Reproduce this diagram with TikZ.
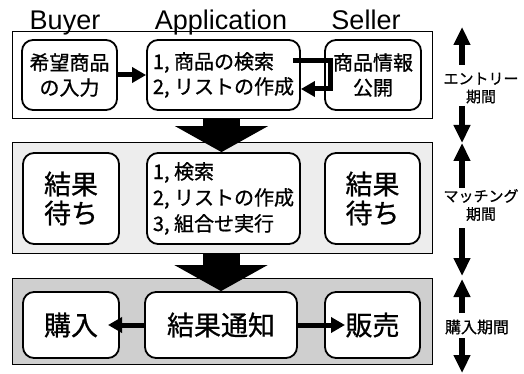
\documentclass[tikz,border=0pt]{standalone}
\usepackage{fontspec}
\setmainfont{Liberation Sans}
\newfontfamily\cjk[FakeBold=0.8]{Noto Sans CJK JP}
\usetikzlibrary{arrows.meta}
\begin{document}
\begin{tikzpicture}[x=1pt,y=-1pt,
  frame/.style={draw, line width=0.9pt, inner sep=0pt},
  box/.style={draw, line width=1.8pt, rounded corners=11pt, fill=white, inner sep=0pt, align=center},
  hdr/.style={anchor=base, inner sep=0pt, font=\fontsize{27}{27}\selectfont},
  small/.style={font=\cjk\fontsize{20}{25}\selectfont},
  big/.style={font=\cjk\fontsize{27}{29}\selectfont},
  side/.style={font=\cjk\fontsize{15}{18}\selectfont, align=center, inner sep=0pt},
  bigarrow/.style={line width=37pt, -{Triangle[width=92pt,length=26pt]}},
  arr/.style={line width=5pt, miter limit=10, -{Triangle[width=15pt,length=14pt]}},
  sarr/.style={line width=6pt, -{Triangle[width=16pt,length=18pt]}},
]
\useasboundingbox (0,0) rectangle (524,374);

% panels
\node[frame, minimum width=420pt, minimum height=87pt] (tf) at (222,74.5) {};
\node[frame, fill=gray!14, minimum width=420pt, minimum height=111pt] (mf) at (222,197.5) {};
\node[frame, fill=gray!38, minimum width=420pt, minimum height=86pt] (bf) at (222,321) {};

% headers
\node[hdr] (hb) at (65,30) {Buyer};
\node[hdr] (ha) at (221,30) {Application};
\node[hdr] (hs) at (366,30) {Seller};

% top row
\node[box, small, minimum width=95pt, minimum height=70pt] (tb1) at (69.5,75) {希望商品\\の入力};
\node[box, small, align=left, minimum width=153pt, minimum height=70pt] (tb2) at (223.5,75) {1, 商品の検索\\2, リストの作成};
\node[box, small, minimum width=96pt, minimum height=70pt] (tb3) at (373,75) {商品情報\\公開};

% middle row
\node[box, big, minimum width=96pt, minimum height=91pt] (mb1) at (71,198.5) {結果\\待ち};
\node[box, font=\cjk\fontsize{20}{26}\selectfont, align=left, minimum width=153pt, minimum height=91pt] (mb2) at (223.5,198.5) {1, 検索\\2, リストの作成\\3, 組合せ実行};
\node[box, big, minimum width=95pt, minimum height=91pt] (mb3) at (372.5,198.5) {結果\\待ち};

% bottom row
\node[box, big, minimum width=96pt, minimum height=66pt] (bb1) at (71,325) {購入};
\node[box, big, minimum width=152pt, minimum height=66pt] (bb2) at (221,325) {結果通知};
\node[box, big, minimum width=95pt, minimum height=66pt] (bb3) at (372.5,325) {販売};

% connectors
\draw[arr] (tb1.east) -- (tb2.west);
\draw[arr] ([shift={(-8pt,14pt)}]tb2.east) -- ++(38,0) |- ([yshift=-14pt]tb2.east);
\draw[arr] (bb2.west) -- ([xshift=37pt]bb1.center);
\draw[arr] (bb2.east) -- ([xshift=-27.5pt]bb3.center);

\draw[bigarrow] ([xshift=-2pt]tf.south -| mb2.north) -- ([xshift=-2pt]mb2.north);
\draw[bigarrow] (mf.south -| bb2.north) -- (bb2.north);

% side periods
\coordinate (e0) at (462,27);
\coordinate (e1) at (462,65);
\node[side] (el) at (481,88) {エントリー\\期間};
\coordinate (e2) at (462,106);
\coordinate (e3) at (462,143);
\draw[sarr] (e1) -- (e0);
\draw[sarr] (e2) -- (e3);

\coordinate (m0) at (462,143);
\coordinate (m1) at (462,188);
\node[side] (ml) at (481,205) {マッチング\\期間};
\coordinate (m2) at (462,228);
\coordinate (m3) at (462,276);
\draw[sarr] (m1) -- (m0);
\draw[sarr] (m2) -- (m3);

\coordinate (p0) at (462,279);
\coordinate (p1) at (462,313);
\node[side, font=\cjk\fontsize{16}{18}\selectfont] (pl) at (477,327) {購入期間};
\coordinate (p2) at (462,338);
\coordinate (p3) at (462,373);
\draw[sarr] (p1) -- (p0);
\draw[sarr] (p2) -- (p3);
\end{tikzpicture}
\end{document}
